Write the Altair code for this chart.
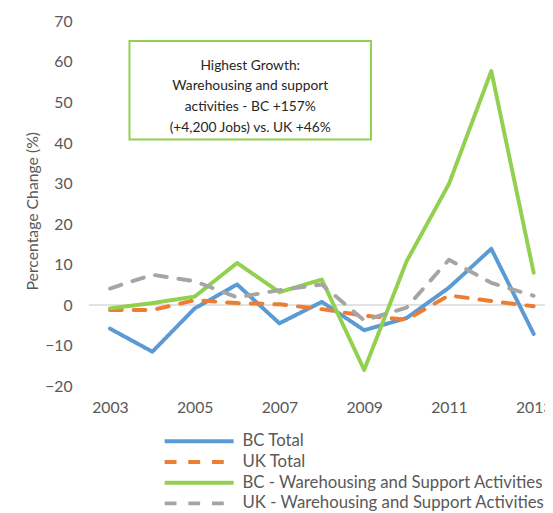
import altair as alt
import pandas as pd

years = [2003, 2004, 2005, 2006, 2007, 2008, 2009, 2010, 2011, 2012, 2013]
bc_total = [-5.8, -11.5, -0.8, 5.1, -4.5, 0.8, -6.2, -3.2, 4.3, 13.9, -7.1]
uk_total = [-1.2, -1.2, 1.2, 0.5, 0.2, -1.0, -2.6, -3.6, 2.4, 1.0, -0.3]
bc_wh = [-0.8, 0.5, 2.1, 10.4, 3.2, 6.3, -16.0, 10.8, 29.9, 57.8, 8.0]
uk_wh = [4.1, 7.5, 5.9, 1.9, 3.7, 5.1, -3.8, -0.6, 11.2, 5.5, 2.3]

series_names = [
    "BC Total",
    "UK Total",
    "BC - Warehousing and Support Activities",
    "UK - Warehousing and Support Activities",
]
series_values = [bc_total, uk_total, bc_wh, uk_wh]
series_colors = ["#5B9BD5", "#ED7D31", "#92D050", "#A5A5A5"]
series_dashes = [[1, 0], [12, 12], [1, 0], [12, 12]]

x_ticks = [2003, 2005, 2007, 2009, 2011, 2013]
y_ticks = [-20, -10, 0, 10, 20, 30, 40, 50, 60, 70]

note_lines = [
    "Highest Growth:",
    "Warehousing and support",
    "activities - BC +157%",
    "(+4,200 Jobs) vs. UK +46%",
]
note_box_x = [2003.46, 2009.16]
note_box_y = [40.9, 65.2]
note_anchor = [2006.31, 59.1]

rows = []
for name, vals in zip(series_names, series_values):
    for yr, v in zip(years, vals):
        rows.append({"year": yr, "value": v, "series": name})
df = pd.DataFrame(rows)

FONT = "Lato"
GREY = "#595959"

xscale = alt.Scale(domain=[2002.5, 2013.5], range=[0, 473], nice=False, zero=False)
yscale = alt.Scale(domain=[-20, 70], nice=False, zero=False)

x_axis = alt.Axis(values=x_ticks, format="d", ticks=False, domain=False, grid=False,
                  labelFont=FONT, labelFontSize=16, labelColor=GREY, labelPadding=14,
                  labelFlush=False, labelOverlap=False, title=None)
y_axis = alt.Axis(values=y_ticks, ticks=False, domain=False, grid=False,
                  labelFont=FONT, labelFontSize=16, labelColor=GREY, labelPadding=17,
                  title="Percentage Change (%)", titleFont=FONT, titleFontSize=16,
                  titleFontWeight="normal", titleColor=GREY, titleX=-57, titleY=192,
                  titleBaseline="middle", titleAngle=270)

color_scale = alt.Scale(domain=series_names, range=series_colors)
dash_scale = alt.Scale(domain=series_names, range=series_dashes)
legend = alt.Legend(title=None, orient="none", legendX=100, legendY=414, direction="vertical",
                    symbolType="M-3.5,0H3.5", symbolSize=400, symbolStrokeWidth=4,
                    labelFont=FONT, labelFontSize=17, labelColor=GREY, labelOffset=32,
                    rowPadding=1, padding=0, labelLimit=400)

zero_df = pd.DataFrame({"x": [2002.5], "x2": [2013.5], "y": [0]})
zero_rule = alt.Chart(zero_df).mark_rule(color="#D9D9D9", strokeWidth=1.5).encode(
    x=alt.X("x:Q", scale=xscale, axis=x_axis),
    x2="x2:Q",
    y=alt.Y("y:Q", scale=yscale, axis=y_axis),
)

layers = [zero_rule]
for name in series_names:
    layers.append(
        alt.Chart(df).transform_filter(alt.datum.series == name)
        .mark_line(strokeWidth=4, strokeCap="round", strokeJoin="round")
        .encode(
            x=alt.X("year:Q", scale=xscale, axis=x_axis),
            y=alt.Y("value:Q", scale=yscale, axis=y_axis),
            color=alt.Color("series:N", scale=color_scale, legend=legend),
            strokeDash=alt.StrokeDash("series:N", scale=dash_scale, legend=legend),
        )
    )

box_df = pd.DataFrame({"x": [note_box_x[0]], "x2": [note_box_x[1]],
                       "y": [note_box_y[0]], "y2": [note_box_y[1]]})
box = alt.Chart(box_df).mark_rect(fill="white", stroke="#92D050", strokeWidth=2).encode(
    x=alt.X("x:Q", scale=xscale, axis=x_axis), x2="x2:Q",
    y=alt.Y("y:Q", scale=yscale, axis=y_axis), y2="y2:Q",
)
text_df = pd.DataFrame({"x": [note_anchor[0]], "y": [note_anchor[1]], "t": [note_lines]})
note = alt.Chart(text_df).mark_text(font=FONT, fontSize=14, color="#262626", align="center",
                                    baseline="middle", lineHeight=21).encode(
    x=alt.X("x:Q", scale=xscale, axis=x_axis), y=alt.Y("y:Q", scale=yscale, axis=y_axis),
    text="t",
)
layers += [box, note]

chart = alt.layer(*layers).properties(
    width=455, height=370,
    background="white",
    autosize=alt.AutoSizeParams(type="none"),
    padding={"left": 82, "top": 10, "right": 8, "bottom": 125},
).configure_view(stroke=None)

chart.save("out.html", embed_options={"renderer": "svg", "actions": False})
